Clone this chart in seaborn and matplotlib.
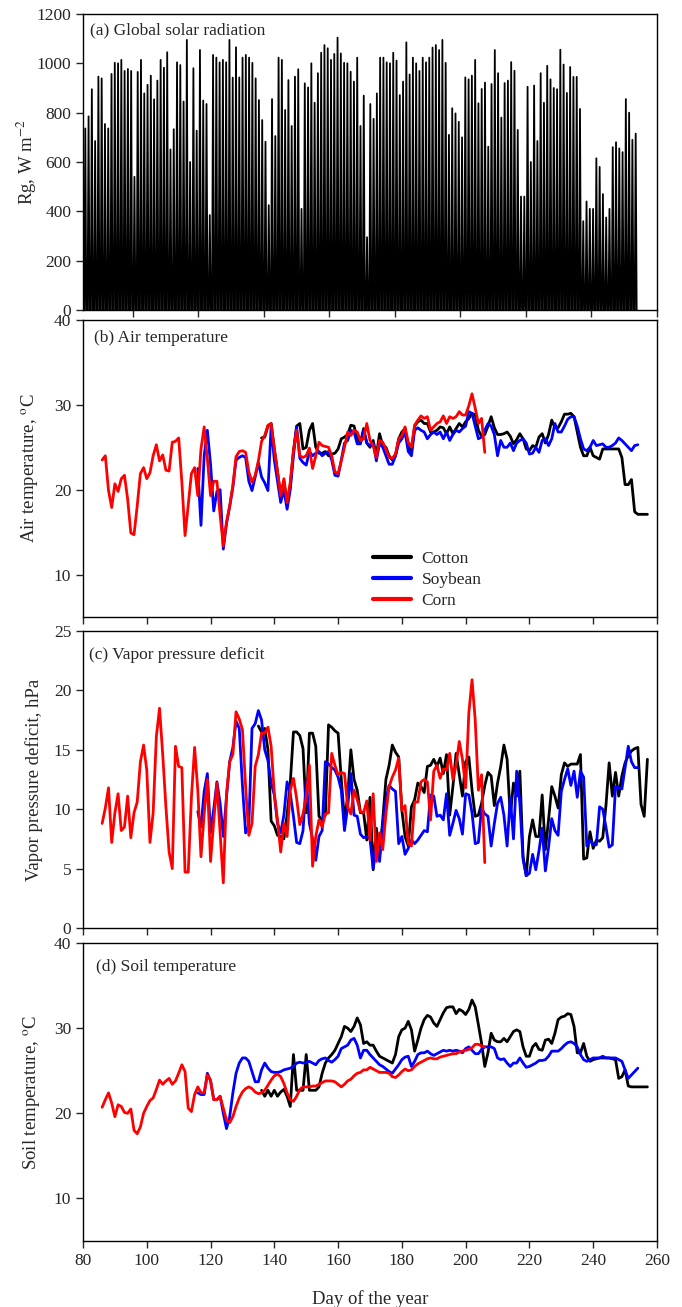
import numpy as np
import pandas as pd
import matplotlib
matplotlib.use("Agg")
import matplotlib.pyplot as plt
import seaborn as sns

# ---------------- data ----------------
crops = ["Cotton", "Soybean", "Corn"]
crop_colors = ["black", "blue", "red"]

# (a) daily peak of global solar radiation (W m-2), first day 85
rg_start_day = 85
rg_daily_peak = [736, 785, 895, 685, 946, 939, 754, 736, 957, 1002,
                 1000, 1014, 969, 977, 969, 540, 965, 1014, 878, 913,
                 950, 854, 930, 1014, 982, 1045, 651, 733, 1004, 993,
                 845, 1095, 600, 980, 727, 1054, 849, 835, 385, 1034,
                 1023, 1004, 1014, 1004, 1095, 942, 1065, 943, 1023, 1034,
                 1023, 1002, 939, 851, 770, 682, 425, 855, 705, 1023,
                 1014, 811, 932, 746, 946, 976, 410, 919, 902, 1000,
                 840, 960, 1043, 1074, 1061, 1014, 1038, 1104, 1040, 1002,
                 1000, 966, 926, 1023, 746, 869, 295, 835, 775, 878,
                 1023, 1023, 1004, 1000, 1043, 1011, 871, 926, 1085, 955,
                 1023, 1000, 969, 1023, 1004, 1023, 1064, 1074, 1054, 1095,
                 1002, 710, 818, 797, 763, 700, 943, 935, 950, 1014,
                 838, 896, 922, 662, 916, 1054, 960, 780, 920, 930,
                 1005, 970, 730, 460, 460, 905, 600, 910, 685, 960,
                 840, 990, 935, 900, 895, 1055, 995, 880, 985, 945,
                 945, 815, 360, 440, 410, 410, 615, 580, 470, 375,
                 410, 660, 680, 655, 640, 855, 800, 690, 715]
# within-day sampling of a clear-sky day: sunrise, noon, sunset
rg_day_fraction = [0.2, 0.5, 0.8]
rg_relative = [0.0, 1.0, 0.0]

# (b) air temperature (oC)
air_corn_start = 86
air_corn = [23.5, 24.0, 19.9, 17.9, 20.7, 19.8, 21.3, 21.7, 18.9, 14.9,
            14.7, 18.1, 21.9, 22.6, 21.3, 22.0, 24.0, 25.3, 23.4, 24.1,
            22.3, 22.2, 25.6, 25.7, 26.1, 20.9, 14.6, 18.2, 21.9, 22.6,
            19.3, 24.8, 27.4, 23.6, 19.3, 21.0, 21.0, 17.0, 13.4, 16.2,
            18.1, 20.5, 23.9, 24.5, 24.6, 24.4, 22.1, 20.9, 21.7, 23.4,
            25.7, 26.4, 27.6, 27.8, 24.8, 22.1, 19.3, 21.3, 18.5, 20.9,
            24.6, 27.0, 24.0, 23.8, 24.0, 24.9, 22.5, 24.0, 25.6, 25.2,
            25.1, 25.0, 24.0, 22.1, 21.9, 23.4, 25.0, 26.8, 26.4, 27.0,
            26.8, 25.8, 26.0, 27.8, 25.8, 25.2, 23.8, 25.8, 25.6, 24.8,
            23.8, 23.7, 24.2, 26.0, 26.4, 27.4, 25.6, 25.0, 27.6, 28.2,
            28.7, 28.4, 28.6, 27.0, 27.4, 27.8, 28.0, 28.7, 27.8, 28.6,
            28.4, 28.6, 29.2, 28.8, 28.8, 29.9, 31.3, 29.6, 27.8, 28.4,
            24.4]
air_soy_start = 116
air_soy = [22.5, 15.8, 24.0, 27.0, 23.0, 17.5, 19.8, 20.0, 13.0, 16.0,
           18.0, 20.3, 23.5, 23.8, 24.0, 23.8, 21.0, 19.9, 21.5, 23.2,
           21.5, 20.8, 19.9, 27.5, 23.5, 21.0, 18.5, 20.0, 17.7, 20.0,
           24.0, 27.4, 23.7, 23.2, 22.9, 24.5, 24.0, 24.3, 24.5, 24.0,
           24.3, 24.5, 23.5, 21.7, 21.6, 23.5, 25.5, 25.8, 27.0, 26.8,
           25.4, 25.4, 27.0, 25.5, 25.2, 25.5, 23.4, 25.5, 25.0, 24.0,
           23.0, 23.0, 24.0, 25.5, 26.0, 26.8, 24.5, 24.0, 27.0, 27.3,
           27.0, 26.8, 26.0, 26.5, 26.8, 26.5, 26.8, 26.0, 26.8, 25.8,
           26.5, 27.0, 26.8, 27.2, 27.5, 29.2, 29.0, 27.5, 26.0, 26.2,
           27.0, 27.8, 27.5, 26.5, 24.0, 25.8, 25.0, 25.0, 25.5, 24.6,
           25.5, 25.8, 26.0, 25.5, 24.2, 24.3, 25.0, 24.4, 25.8, 26.0,
           25.2, 26.0, 27.8, 26.8, 26.8, 27.5, 28.3, 28.6, 28.6, 27.5,
           26.0, 24.8, 24.6, 25.0, 25.8, 25.2, 25.3, 25.4, 25.0, 25.0,
           25.2, 25.5, 26.1, 25.8, 25.4, 25.0, 24.6, 25.2, 25.3]
air_cotton_start = 136
air_cotton = [26.1, 26.2, 27.5, 27.8, 24.8, 22.1, 19.3, 21.0, 18.3, 20.5,
              24.6, 27.5, 27.8, 24.8, 25.0, 27.0, 27.8, 25.0, 24.3, 24.3,
              24.5, 24.0, 24.2, 24.3, 24.8, 26.0, 26.2, 26.5, 27.6, 27.5,
              26.0, 25.5, 27.2, 25.5, 25.0, 25.8, 24.0, 26.6, 25.2, 25.0,
              24.0, 23.5, 24.0, 26.0, 26.8, 27.2, 25.0, 24.5, 27.5, 28.0,
              28.2, 27.8, 27.8, 26.8, 26.8, 27.0, 27.4, 27.3, 26.6, 27.4,
              26.6, 27.2, 27.8, 27.4, 28.0, 28.4, 29.0, 28.8, 27.0, 26.3,
              26.5, 27.5, 28.6, 27.3, 26.5, 26.5, 26.6, 26.8, 26.3, 25.4,
              25.9, 26.6, 26.0, 24.8, 24.6, 25.2, 25.0, 26.2, 26.6, 25.5,
              26.5, 28.2, 27.3, 27.3, 28.0, 28.9, 28.9, 29.0, 28.6, 26.8,
              25.0, 24.0, 24.0, 25.0, 24.0, 23.8, 23.6, 24.8, 24.8, 24.8,
              24.8, 24.8, 24.8, 23.8, 20.6, 20.6, 21.2, 17.4, 17.1, 17.1,
              17.1, 17.1]

# (c) vapor pressure deficit (hPa)
vpd_corn_start = 86
vpd_corn = [8.8, 10.1, 11.8, 7.2, 9.7, 11.3, 8.2, 8.5, 11.1, 7.6,
            9.7, 10.6, 14.0, 15.4, 13.3, 7.2, 9.7, 16.1, 18.5, 14.6,
            10.2, 6.4, 5.0, 15.3, 13.6, 13.5, 4.7, 4.7, 11.0, 15.2,
            11.6, 6.0, 9.6, 12.5, 5.6, 9.0, 12.2, 8.0, 3.8, 11.3,
            14.0, 14.6, 18.2, 17.6, 16.7, 11.9, 7.8, 8.8, 13.6, 14.6,
            16.4, 16.4, 16.9, 15.3, 11.3, 9.1, 6.4, 8.8, 7.7, 11.6,
            12.6, 10.9, 8.7, 9.6, 11.0, 13.7, 5.2, 7.7, 9.1, 8.5,
            9.6, 9.7, 14.7, 13.7, 12.9, 13.1, 13.0, 10.2, 9.6, 11.6,
            10.8, 9.8, 9.7, 10.7, 7.4, 11.3, 5.6, 8.0, 6.6, 9.6,
            11.9, 12.7, 13.3, 14.3, 9.9, 10.3, 7.1, 6.9, 10.6, 10.6,
            12.3, 12.5, 12.3, 9.1, 13.2, 13.7, 12.6, 13.4, 13.3, 14.7,
            12.5, 13.7, 15.7, 14.2, 11.8, 18.1, 20.9, 17.5, 11.6, 12.9,
            5.5]
vpd_soy_start = 116
vpd_soy = [9.8, 8.5, 11.5, 13.0, 8.0, 10.0, 12.3, 10.5, 7.7, 11.0,
           14.0, 15.2, 17.4, 16.8, 12.0, 8.0, 8.6, 16.8, 17.2, 18.3,
           17.5, 15.0, 14.1, 12.2, 11.2, 8.8, 8.0, 9.5, 12.3, 11.3,
           9.4, 7.2, 7.1, 8.2, 12.4, 8.8, 7.5, 5.7, 7.7, 8.2,
           14.0, 13.8, 13.5, 13.3, 12.7, 11.6, 8.2, 10.2, 13.0, 9.5,
           9.4, 7.9, 7.6, 7.7, 7.5, 5.0, 6.9, 5.6, 8.8, 10.8,
           12.0, 11.7, 11.5, 7.1, 7.7, 6.2, 6.7, 7.4, 7.1, 7.4,
           7.8, 8.2, 8.1, 11.2, 11.1, 9.4, 9.5, 9.1, 11.3, 7.8,
           8.8, 9.9, 9.2, 7.9, 11.3, 11.2, 9.7, 7.1, 7.2, 10.1,
           9.6, 9.4, 6.9, 8.8, 10.5, 11.0, 9.5, 6.9, 11.0, 7.5,
           13.2, 10.5, 5.8, 4.4, 4.6, 6.2, 4.9, 6.5, 8.4, 4.8,
           6.8, 9.2, 8.2, 7.8, 11.5, 12.5, 13.4, 12.0, 13.2, 11.0,
           13.2, 12.7, 6.9, 7.4, 7.0, 7.0, 10.2, 10.0, 8.5, 6.8,
           7.0, 11.9, 11.8, 11.7, 13.5, 15.3, 14.0, 13.5, 13.5]
vpd_cotton_start = 135
vpd_cotton = [17.0, 16.5, 16.8, 15.0, 9.0, 8.6, 7.8, 7.7, 7.5, 9.5,
              12.2, 16.5, 16.5, 16.2, 15.1, 9.7, 16.4, 16.4, 15.3, 9.4,
              9.1, 9.5, 17.1, 16.9, 16.6, 16.4, 12.5, 9.1, 11.0, 15.0,
              12.5, 11.6, 9.7, 9.7, 7.4, 11.0, 4.9, 8.4, 6.0, 9.1,
              12.5, 13.7, 15.4, 14.8, 14.4, 9.9, 7.7, 6.9, 10.2, 10.8,
              12.2, 11.9, 11.4, 13.6, 13.7, 14.2, 13.6, 14.3, 13.0, 14.6,
              9.5, 11.9, 14.7, 12.9, 11.1, 14.0, 14.4, 11.6, 9.4, 9.5,
              10.5, 12.0, 13.1, 12.8, 10.3, 12.2, 13.6, 15.4, 14.2, 9.4,
              12.2, 11.1, 13.2, 6.0, 4.4, 7.7, 9.1, 7.7, 7.7, 11.2,
              6.6, 9.1, 11.9, 11.1, 10.1, 12.9, 13.9, 13.6, 13.8, 13.8,
              13.8, 14.6, 5.8, 5.9, 8.1, 6.7, 7.4, 7.3, 7.6, 10.3,
              13.9, 11.1, 13.1, 11.1, 12.8, 13.9, 14.5, 14.9, 15.1, 15.2,
              10.4, 9.4, 14.2]

# (d) soil temperature (oC)
soil_corn_start = 86
soil_corn = [20.7, 21.6, 22.4, 21.2, 19.6, 21.0, 20.8, 20.1, 20.0, 20.5,
             18.0, 17.6, 18.4, 20.0, 20.8, 21.5, 21.8, 22.8, 23.9, 23.4,
             23.8, 24.1, 23.4, 23.8, 24.7, 25.7, 24.9, 20.6, 20.2, 22.2,
             23.1, 22.4, 22.4, 24.5, 23.9, 21.6, 21.6, 22.0, 20.6, 19.2,
             18.9, 19.6, 20.8, 21.8, 22.5, 22.9, 23.1, 22.9, 22.5, 22.3,
             22.4, 22.7, 23.3, 23.9, 24.4, 24.6, 24.3, 23.5, 22.4, 21.6,
             21.4, 22.0, 22.8, 23.1, 23.1, 23.1, 23.2, 23.2, 23.4, 23.6,
             23.8, 23.8, 23.8, 23.7, 23.4, 23.1, 23.4, 23.8, 24.0, 24.4,
             24.7, 24.8, 25.1, 25.1, 25.4, 25.2, 25.0, 24.8, 24.8, 24.8,
             24.7, 24.3, 24.2, 24.5, 24.9, 25.2, 25.0, 25.1, 25.5, 25.8,
             26.0, 26.2, 26.4, 26.5, 26.4, 26.4, 26.6, 26.7, 26.8, 26.9,
             27.0, 27.0, 27.2, 27.3, 27.4, 27.5, 27.7, 28.1, 28.1, 27.9,
             27.8]
soil_soy_start = 116
soil_soy = [22.4, 22.2, 22.2, 24.7, 23.8, 21.6, 21.6, 22.0, 20.0, 18.2,
            19.6, 22.4, 24.7, 25.9, 26.5, 26.5, 26.1, 24.9, 23.7, 23.7,
            25.1, 25.9, 25.3, 24.9, 24.8, 24.8, 24.9, 25.1, 25.2, 25.3,
            25.5, 25.9, 26.0, 25.9, 26.0, 26.1, 25.9, 25.7, 26.2, 26.4,
            26.5, 26.2, 26.0, 26.3, 26.7, 27.6, 27.8, 28.0, 28.6, 28.8,
            28.0, 26.5, 27.4, 27.4, 26.9, 26.5, 26.1, 25.7, 25.5, 25.2,
            24.9, 24.7, 25.2, 25.7, 26.3, 26.6, 26.7, 25.5, 26.1, 26.9,
            27.1, 27.1, 27.3, 27.0, 26.8, 27.0, 27.2, 27.4, 27.3, 27.4,
            27.3, 27.4, 27.3, 27.1, 27.6, 27.8, 27.4, 27.0, 27.0, 27.5,
            27.8, 27.8, 27.8, 27.6, 26.5, 26.3, 26.4, 25.9, 25.5, 25.9,
            25.9, 26.5, 25.9, 25.4, 25.5, 25.7, 25.9, 26.2, 26.2, 26.3,
            26.7, 27.3, 27.3, 27.3, 27.6, 28.0, 28.3, 28.4, 28.2, 27.8,
            26.9, 26.3, 26.1, 26.3, 26.5, 26.5, 26.5, 26.7, 26.5, 26.5,
            26.5, 26.5, 26.3, 26.1, 25.1, 24.1, 24.5, 24.9, 25.3]
soil_cotton_start = 136
soil_cotton = [22.7, 22.0, 22.7, 22.0, 22.7, 22.0, 22.5, 22.8, 22.0, 20.8,
               26.9, 22.7, 22.7, 22.7, 26.9, 22.7, 22.7, 22.7,
               23.1, 24.7, 25.9, 26.5, 26.9, 27.4, 28.2, 29.0, 30.2, 30.0,
               29.6, 30.2, 31.2, 30.4, 28.2, 28.4, 28.0, 28.0, 27.3, 26.7,
               26.5, 26.3, 26.1, 25.9, 26.9, 29.0, 29.8, 30.0, 30.8, 29.8,
               27.3, 28.6, 30.0, 31.0, 31.5, 31.3, 30.6, 30.2, 31.0, 31.8,
               32.4, 32.5, 32.5, 31.7, 32.2, 32.0, 31.6, 32.2, 33.3, 32.5,
               30.4, 28.2, 25.5, 27.1, 29.4, 28.6, 28.4, 28.4, 28.8, 28.4,
               29.0, 29.6, 29.8, 29.6, 27.8, 26.7, 26.7, 27.8, 28.2, 27.5,
               27.4, 28.6, 28.7, 28.2, 29.4, 31.0, 31.3, 31.4, 31.7, 31.6,
               30.2, 27.1, 27.1, 28.2, 26.7, 26.1, 26.3, 26.4, 26.5, 26.5,
               26.5, 26.5, 26.4, 26.3, 24.1, 24.3, 25.1, 23.2, 23.1, 23.1,
               23.1, 23.1, 23.1, 23.1]

panel_titles = ["(a) Global solar radiation", "(b) Air temperature",
                "(c) Vapor pressure deficit", "(d) Soil temperature"]
y_labels = [r"Rg, W m$^{-2}$", r"Air temperature, $^{\mathrm{o}}$C",
            "Vapor pressure deficit, hPa", r"Soil temperature, $^{\mathrm{o}}$C"]
x_label = "Day of the year"


def long_frame(series):
    frames = []
    for crop, start, vals in series:
        frames.append(pd.DataFrame({"day": np.arange(start, start + len(vals)),
                                    "value": vals, "crop": crop}))
    return pd.concat(frames, ignore_index=True)


air_df = long_frame([("Cotton", air_cotton_start, air_cotton),
                     ("Soybean", air_soy_start, air_soy),
                     ("Corn", air_corn_start, air_corn)])
vpd_df = long_frame([("Cotton", vpd_cotton_start, vpd_cotton),
                     ("Soybean", vpd_soy_start, vpd_soy),
                     ("Corn", vpd_corn_start, vpd_corn)])
soil_df = long_frame([("Cotton", soil_cotton_start, soil_cotton),
                      ("Soybean", soil_soy_start, soil_soy),
                      ("Corn", soil_corn_start, soil_corn)])

rg_days = np.arange(rg_start_day, rg_start_day + len(rg_daily_peak))
rg_df = pd.DataFrame({
    "time": np.concatenate([d + np.array(rg_day_fraction) for d in rg_days]),
    "rg": np.concatenate([p * np.array(rg_relative) for p in rg_daily_peak]),
})

# ---------------- style ----------------
sns.set_style("ticks")
plt.rcParams["font.family"] = ["Liberation Serif", "DejaVu Serif"]
plt.rcParams["mathtext.fontset"] = "stix"
plt.rcParams["axes.linewidth"] = 1.0

fig = plt.figure(figsize=(6.82, 13.07), dpi=100)
L, W = 0.1217, 0.8416
ax_a = fig.add_axes([L, 0.7628, W, 0.2265])
ax_b = fig.add_axes([L, 0.5279, W, 0.2273])
ax_c = fig.add_axes([L, 0.2900, W, 0.2272])
ax_d = fig.add_axes([L, 0.0505, W, 0.2280])
axes = [ax_a, ax_b, ax_c, ax_d]

palette = dict(zip(crops, crop_colors))

# (a)
sns.lineplot(data=rg_df, x="time", y="rg", ax=ax_a, color="black",
             linewidth=1.3, estimator=None, sort=False)
ax_a.set_xlim(84.8, 260)
ax_a.set_ylim(0, 1200)
ax_a.set_xticks(np.arange(100, 261, 20))
ax_a.set_yticks(np.arange(0, 1201, 200))

# (b), (c), (d)
for ax, df in [(ax_b, air_df), (ax_c, vpd_df), (ax_d, soil_df)]:
    sns.lineplot(data=df, x="day", y="value", hue="crop", hue_order=crops,
                 palette=palette, ax=ax, linewidth=2.0, estimator=None,
                 legend=(ax is ax_b))
    ax.set_xlim(80, 260)
    ax.set_xticks(np.arange(80, 261, 20))

ax_b.set_ylim(5, 40)
ax_b.set_yticks([10, 20, 30, 40])
ax_c.set_ylim(0, 25)
ax_c.set_yticks(np.arange(0, 26, 5))
ax_d.set_ylim(5, 40)
ax_d.set_yticks([10, 20, 30, 40])

leg = ax_b.legend(loc="upper left", bbox_to_anchor=(0.505, 0.224), frameon=False,
                  fontsize=12.5, handlelength=2.2, handletextpad=0.6,
                  labelspacing=0.3, borderaxespad=0, borderpad=0)
for line in leg.get_lines():
    line.set_linewidth(3.0)

title_pos = [(0.012, 0.944), (0.02, 0.94), (0.01, 0.92), (0.022, 0.92)]
label_x = [-0.077, -0.074, -0.070, -0.070]
for ax, title, ylab, (tx, ty), lx in zip(axes, panel_titles, y_labels,
                                          title_pos, label_x):
    ax.text(tx, ty, title, transform=ax.transAxes, fontsize=12.5,
            ha="left", va="center")
    ax.set_ylabel(ylab, fontsize=13.5)
    ax.yaxis.set_label_coords(lx, 0.5)
    ax.set_xlabel("")
    ax.tick_params(direction="out", length=5, width=1, labelsize=12.5,
                   top=False, right=False)
    for s in ax.spines.values():
        s.set_visible(True)
        s.set_linewidth(1.0)
        s.set_color("black")

for ax in [ax_a, ax_b, ax_c]:
    ax.tick_params(labelbottom=False)

ax_d.set_xlabel(x_label, fontsize=13.5, labelpad=15)

fig.savefig("out.png", dpi=100)
